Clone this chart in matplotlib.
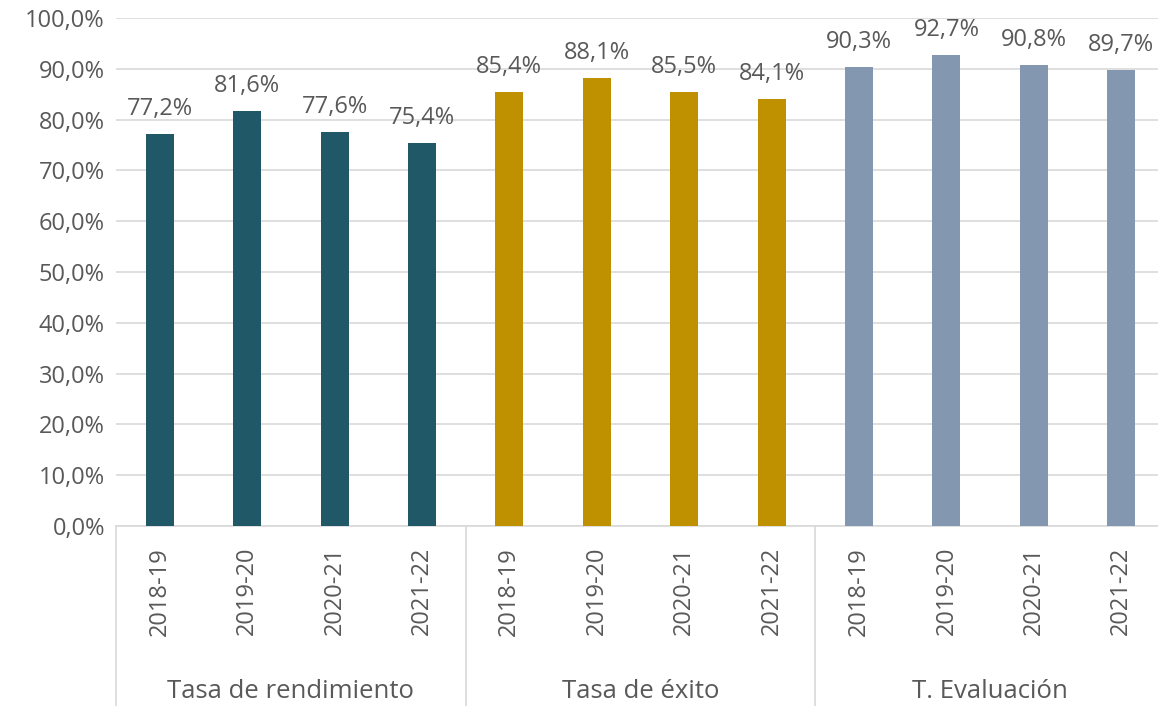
import matplotlib
matplotlib.use("Agg")
import matplotlib.pyplot as plt
import matplotlib.transforms as mtransforms

groups = ["Tasa de rendimiento", "Tasa de éxito", "T. Evaluación"]
years = ["2018-19", "2019-20", "2020-21", "2021-22"]
rendimiento = [77.2, 81.6, 77.6, 75.4]
exito = [85.4, 88.1, 85.5, 84.1]
evaluacion = [90.3, 92.7, 90.8, 89.7]
colors = ["#215868", "#BF9000", "#8497B0"]

plt.rcParams['font.family'] = ['Open Sans', 'DejaVu Sans']
txt = "#595959"
fs = 17

fig = plt.figure(figsize=(11.58, 7.06), dpi=100)
ax = fig.add_axes([116/1158, 180/706, (1165-116)/1158, (526-18)/706])

series = [rendimiento, exito, evaluacion]
for g, (vals, c) in enumerate(zip(series, colors)):
    xs = [g*4 + i for i in range(4)]
    ax.bar(xs, vals, width=0.32, color=c, zorder=3)
    for x, v in zip(xs, vals):
        ax.annotate(f"{v:.1f}%".replace(".", ","), (x, v), xytext=(0, 19),
                    textcoords="offset pixels", ha="center", va="baseline",
                    fontsize=fs, color=txt)

ax.set_xlim(-0.5, 11.5)
ax.set_ylim(0, 100)
ax.set_yticks(range(0, 101, 10))
ax.set_yticklabels([f"{v},0%" for v in range(0, 101, 10)], fontsize=fs, color=txt)
ax.yaxis.grid(True, color="#d9d9d9", linewidth=1.2, zorder=0)
ax.tick_params(axis="y", length=0, pad=8)
ax.tick_params(axis="x", length=0, pad=15)
ax.set_xticks(range(12))
ax.set_xticklabels(years*3, rotation=90, fontsize=fs, color=txt)
for s in ["left", "right", "top"]:
    ax.spines[s].set_visible(False)
ax.spines["bottom"].set_color("#d9d9d9")
ax.spines["bottom"].set_linewidth(1.2)

trans = mtransforms.blended_transform_factory(ax.transData, ax.transAxes)
for xb in [-0.5, 3.5, 7.5, 11.5]:
    ax.plot([xb, xb], [0, -0.36], transform=trans, color="#d9d9d9", lw=1.2, clip_on=False)
for g, name in enumerate(groups):
    ax.text(g*4 + 1.5, -0.325, name, transform=trans, ha="center", va="center",
            fontsize=18.5, color=txt)

fig.savefig("out.png", dpi=100)
